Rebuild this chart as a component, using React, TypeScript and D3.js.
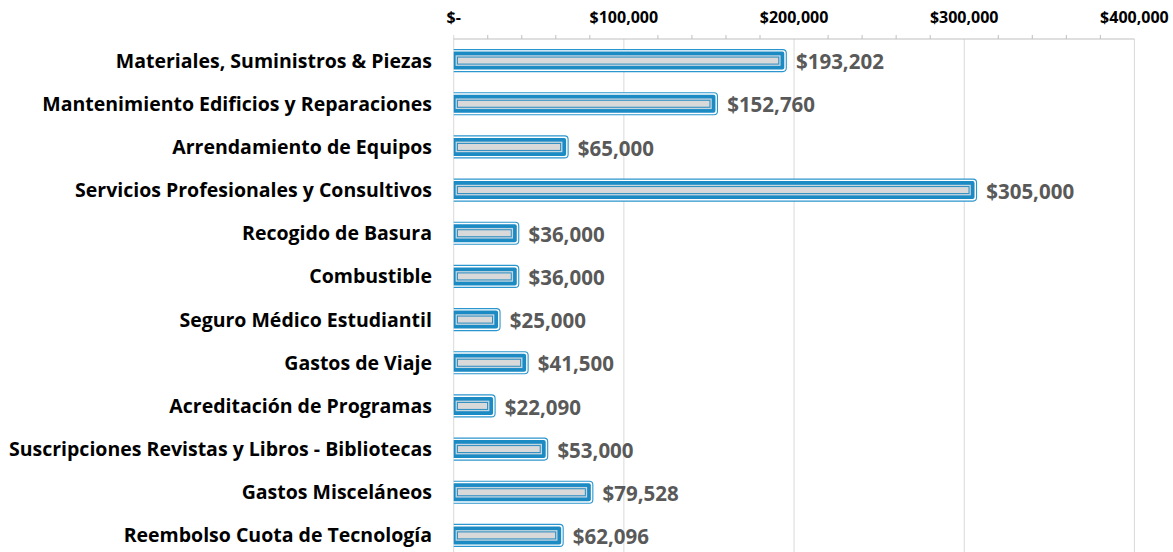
import React, { useRef, useEffect } from "react";
import * as d3 from "d3";

const categories = [
  "Materiales, Suministros & Piezas",
  "Mantenimiento Edificios y Reparaciones",
  "Arrendamiento de Equipos ",
  "Servicios Profesionales y Consultivos ",
  "Recogido de Basura",
  "Combustible",
  "Seguro Médico Estudiantil ",
  "Gastos de Viaje",
  "Acreditación de Programas",
  "Suscripciones Revistas y Libros - Bibliotecas",
  "Gastos Misceláneos",
  "Reembolso Cuota de Tecnología",
];

const amounts = [193202, 152760, 65000, 305000, 36000, 36000, 25000, 41500, 22090, 53000, 79528, 62096];

const majorTicks = [0, 100000, 200000, 300000, 400000];

const App: React.FC = () => {
  const svgRef = useRef<SVGSVGElement>(null);

  useEffect(() => {
    if (!svgRef.current) return;
    const svg = d3.select(svgRef.current);
    svg.selectAll("*").remove();

    const width = 1173;
    const height = 552;
    const font = "'Open Sans', sans-serif";

    const x = d3.scaleLinear().domain([0, 400000]).range([453.7, 1134.4]);
    const y = d3.scaleBand<string>().domain(categories).range([39, 557]);
    const x0 = x(0);
    const axisY = 39;

    svg.attr("width", width).attr("height", height);

    // clip so bar rings don't leak left of the axis
    svg
      .append("defs")
      .append("clipPath")
      .attr("id", "plot-clip")
      .append("rect")
      .attr("x", x0)
      .attr("y", 0)
      .attr("width", width - x0)
      .attr("height", height);

    // gridlines
    svg
      .append("g")
      .selectAll("line")
      .data(majorTicks.slice(1))
      .join("line")
      .attr("x1", (d) => x(d))
      .attr("x2", (d) => x(d))
      .attr("y1", axisY)
      .attr("y2", height)
      .attr("stroke", "#D9D9D9")
      .attr("stroke-width", 1);

    // left vertical axis
    svg
      .append("line")
      .attr("x1", x0)
      .attr("x2", x0)
      .attr("y1", axisY - 4)
      .attr("y2", height)
      .attr("stroke", "#D9D9D9");

    // top axis line + minor ticks
    svg
      .append("line")
      .attr("x1", x0)
      .attr("x2", x(400000))
      .attr("y1", axisY)
      .attr("y2", axisY)
      .attr("stroke", "#BFBFBF");

    const minor = d3.range(20000, 400000, 20000).filter((d) => d % 100000 !== 0);
    svg
      .append("g")
      .selectAll("line")
      .data(minor)
      .join("line")
      .attr("x1", (d) => x(d))
      .attr("x2", (d) => x(d))
      .attr("y1", axisY - 4)
      .attr("y2", axisY)
      .attr("stroke", "#BFBFBF");

    // tick labels
    const fmt = d3.format(",");
    svg
      .append("g")
      .selectAll("text")
      .data(majorTicks)
      .join("text")
      .attr("x", (d) => x(d))
      .attr("y", 22.5)
      .attr("text-anchor", "middle")
      .attr("font-family", font)
      .attr("font-weight", "bold")
      .attr("font-size", 16)
      .attr("fill", "#000")
      .text((d) => (d === 0 ? "$-" : `$${fmt(d)}`));

    // category labels
    svg
      .append("g")
      .selectAll("text")
      .data(categories)
      .join("text")
      .attr("x", 432)
      .attr("y", (d) => (y(d) as number) + y.bandwidth() / 2)
      .attr("dy", "0.36em")
      .attr("text-anchor", "end")
      .attr("font-family", font)
      .attr("font-weight", "bold")
      .attr("font-size", 19.5)
      .attr("fill", "#000")
      .text((d) => d);

    // bars with compound outline
    const rows = categories.map((c, i) => ({ c, v: amounts[i] }));
    const bars = svg
      .append("g")
      .attr("clip-path", "url(#plot-clip)")
      .selectAll("g")
      .data(rows)
      .join("g")
      .attr("transform", (d) => `translate(0,${(y(d.c) as number) + y.bandwidth() / 2})`);

    const half = 7.2;
    const layer = (off: number, rx: number) => (sel: any) =>
      sel
        .attr("x", x0 - off)
        .attr("y", -half - off)
        .attr("width", (d: any) => Math.max(0, x(d.v) - x0 + 2 * off))
        .attr("height", 2 * (half + off))
        .attr("rx", rx);

    bars
      .append("rect")
      .call(layer(3.8, 3.5))
      .attr("fill", "#fff")
      .attr("stroke", "#2B95CD")
      .attr("stroke-width", 1.1);
    bars.append("rect").call(layer(1.8, 2)).attr("fill", "#1C8BC4");
    bars.append("rect").call(layer(-1.9, 0)).attr("fill", "#C6D6E0");
    bars
      .append("rect")
      .call(layer(-3.7, 0))
      .attr("fill", "#D9D9D9")
      .attr("stroke", "#2A8CC0")
      .attr("stroke-width", 1);

    // value labels
    svg
      .append("g")
      .selectAll("text")
      .data(rows)
      .join("text")
      .attr("x", (d) => x(d.v) + 13.5)
      .attr("y", (d) => (y(d.c) as number) + y.bandwidth() / 2 + 1.5)
      .attr("dy", "0.35em")
      .attr("font-family", font)
      .attr("font-weight", "bold")
      .attr("font-size", 20.5)
      .attr("fill", "#595959")
      .text((d) => `$${fmt(d.v)}`);
  }, []);

  return (
    <svg
      ref={svgRef}
      style={{ position: "absolute", left: 0, top: 0, background: "#fff" }}
    ></svg>
  );
};

export default App;
